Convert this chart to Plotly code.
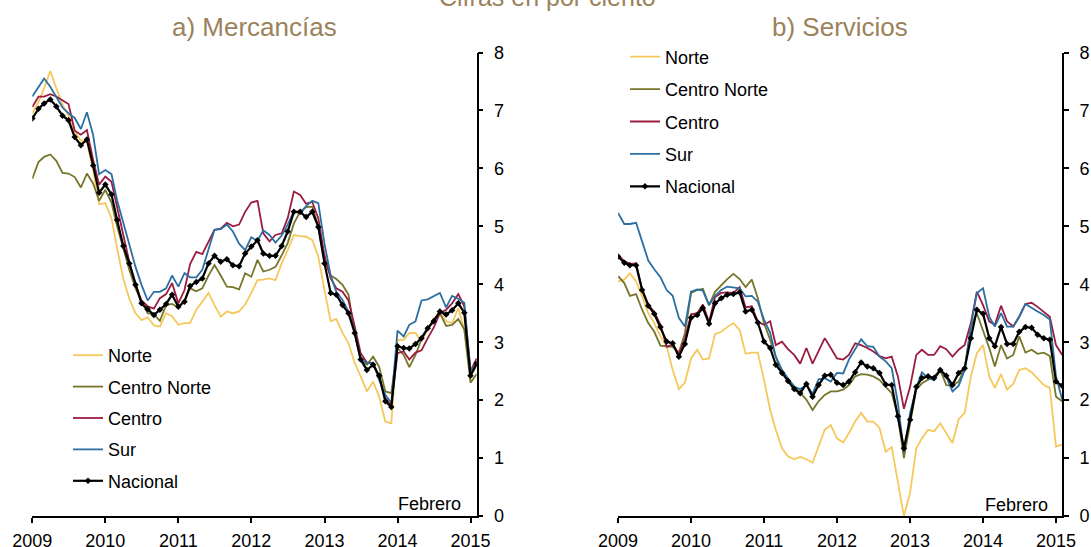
import plotly.graph_objects as go
import pandas as pd

months = pd.date_range("2009-01-01", "2015-02-01", freq="MS")
year_ticks = ["2009-01-01", "2010-01-01", "2011-01-01", "2012-01-01",
              "2013-01-01", "2014-01-01", "2015-01-01"]
year_labels = ["2009", "2010", "2011", "2012", "2013", "2014", "2015"]

series_names = ["Norte", "Centro Norte", "Centro", "Sur", "Nacional"]

# a) Mercancías
merc_norte = [6.95, 7.15, 7.38, 7.68, 7.38, 7.10, 6.91, 6.63, 6.48, 6.45,
              5.98, 5.38, 5.40, 5.14, 4.62, 4.10, 3.75, 3.50, 3.38, 3.43,
              3.29, 3.27, 3.50, 3.45, 3.30, 3.33, 3.33, 3.56, 3.70, 3.85,
              3.64, 3.44, 3.53, 3.50, 3.53, 3.65, 3.85, 4.07, 4.08, 4.10,
              4.07, 4.36, 4.59, 4.85, 4.83, 4.82, 4.76, 4.48, 3.90, 3.36,
              3.40, 3.16, 2.98, 2.64, 2.41, 2.15, 2.32, 2.06, 1.63, 1.60,
              3.04, 3.04, 3.16, 3.16, 3.01, 3.24, 3.39, 3.53, 3.36, 3.33,
              3.59, 3.21, 2.41, 2.58]
merc_centro_norte = [5.82, 6.11, 6.20, 6.24, 6.13, 5.92, 5.91, 5.85, 5.67, 5.91,
                     5.74, 5.44, 5.63, 5.41, 5.00, 4.60, 4.25, 3.93, 3.70, 3.50,
                     3.48, 3.37, 3.64, 3.66, 3.60, 3.72, 3.93, 3.88, 3.93, 4.15,
                     4.33, 4.15, 3.96, 3.95, 3.91, 4.19, 4.13, 4.42, 4.22, 4.25,
                     4.30, 4.50, 4.71, 5.05, 5.25, 5.33, 5.34, 5.00, 4.40, 4.15,
                     4.09, 3.99, 3.82, 3.15, 2.68, 2.61, 2.75, 2.58, 2.15, 2.12,
                     2.90, 2.78, 2.57, 2.78, 3.05, 3.22, 3.40, 3.50, 3.28, 3.30,
                     3.40, 3.22, 2.30, 2.45]
merc_centro = [7.06, 7.24, 7.24, 7.28, 7.24, 7.18, 7.11, 6.65, 6.58, 6.66,
               6.15, 5.72, 5.86, 5.77, 5.31, 4.85, 4.39, 3.99, 3.72, 3.62,
               3.58, 3.76, 3.83, 4.02, 3.67, 3.90, 4.35, 4.56, 4.52, 4.74,
               4.94, 4.96, 5.06, 5.00, 5.03, 5.25, 5.41, 5.44, 4.88, 4.74,
               4.85, 4.88, 5.14, 5.60, 5.54, 5.39, 5.42, 5.14, 4.50, 4.10,
               3.93, 3.87, 3.72, 3.27, 2.81, 2.65, 2.64, 2.41, 2.03, 1.92,
               2.81, 2.84, 2.70, 2.82, 2.86, 3.07, 3.25, 3.50, 3.56, 3.67,
               3.83, 3.62, 2.50, 2.72]
merc_sur = [7.24, 7.40, 7.55, 7.41, 7.22, 7.05, 6.95, 6.87, 6.68, 6.97,
            6.58, 5.90, 5.97, 5.90, 5.45, 5.05, 4.65, 4.30, 3.99, 3.72,
            3.87, 3.87, 3.93, 4.15, 3.96, 4.19, 4.12, 4.12, 4.25, 4.62,
            4.94, 4.95, 5.03, 4.91, 4.70, 4.59, 4.81, 4.75, 4.93, 4.85,
            4.72, 4.84, 5.03, 5.26, 5.22, 5.35, 5.44, 5.40, 4.70, 4.15,
            3.87, 3.73, 3.53, 3.18, 2.71, 2.64, 2.64, 2.35, 2.09, 1.95,
            3.20, 3.10, 3.30, 3.36, 3.72, 3.74, 3.80, 3.85, 3.60, 3.80,
            3.75, 3.68, 2.50, 2.63]
merc_nacional = [6.86, 7.03, 7.12, 7.19, 7.07, 6.91, 6.83, 6.54, 6.40, 6.50,
                 6.05, 5.58, 5.72, 5.55, 5.11, 4.66, 4.36, 3.99, 3.67, 3.57,
                 3.47, 3.56, 3.66, 3.82, 3.61, 3.70, 3.97, 4.04, 4.10, 4.36,
                 4.49, 4.39, 4.43, 4.33, 4.31, 4.53, 4.65, 4.76, 4.53, 4.49,
                 4.49, 4.66, 4.91, 5.25, 5.25, 5.16, 5.25, 4.99, 4.36, 3.85,
                 3.82, 3.64, 3.50, 3.16, 2.70, 2.52, 2.61, 2.42, 1.98, 1.88,
                 2.93, 2.90, 2.89, 2.97, 3.07, 3.24, 3.36, 3.53, 3.48, 3.55,
                 3.67, 3.51, 2.42, 2.63]

# b) Servicios
serv_norte = [4.05, 4.08, 4.19, 4.05, 3.79, 3.50, 3.33, 3.10, 2.93, 2.52,
              2.19, 2.30, 2.72, 2.87, 2.70, 2.72, 3.14, 3.18, 3.26, 3.33,
              3.21, 2.80, 2.82, 2.82, 2.35, 1.83, 1.49, 1.17, 1.03, 0.98,
              1.02, 0.98, 0.92, 1.20, 1.49, 1.57, 1.34, 1.27, 1.43, 1.63,
              1.78, 1.63, 1.63, 1.52, 1.11, 1.19, 0.55, 0.00, 0.40, 1.17,
              1.34, 1.49, 1.46, 1.60, 1.43, 1.26, 1.67, 1.78, 2.41, 2.81,
              2.95, 2.41, 2.21, 2.45, 2.18, 2.28, 2.52, 2.55, 2.48, 2.38,
              2.26, 2.21, 1.20, 1.23]
serv_centro_norte = [4.14, 4.02, 3.80, 3.83, 3.56, 3.33, 3.18, 2.94, 2.93, 2.92,
                     2.82, 3.15, 3.85, 3.90, 3.92, 3.64, 3.87, 3.99, 4.09, 4.18,
                     4.09, 3.95, 4.08, 3.76, 3.33, 3.04, 2.75, 2.47, 2.36, 2.23,
                     2.13, 2.01, 1.83, 1.98, 2.09, 2.15, 2.15, 2.18, 2.26, 2.41,
                     2.45, 2.44, 2.41, 2.35, 2.23, 2.12, 1.72, 1.00, 1.60, 2.18,
                     2.29, 2.35, 2.41, 2.52, 2.26, 2.25, 2.32, 2.55, 3.27, 3.50,
                     3.21, 2.90, 2.58, 2.95, 2.72, 2.78, 3.10, 2.82, 2.87, 2.80,
                     2.82, 2.76, 2.06, 1.98]
serv_centro = [4.50, 4.40, 4.35, 4.36, 3.92, 3.65, 3.52, 3.30, 2.92, 2.96,
               2.80, 3.05, 3.48, 3.50, 3.65, 3.35, 3.78, 3.85, 3.86, 3.85,
               3.95, 3.60, 3.62, 3.35, 3.30, 3.36, 2.95, 3.01, 2.88, 2.78,
               2.63, 2.90, 2.63, 2.86, 3.07, 2.90, 2.72, 2.70, 2.78, 2.98,
               2.95, 2.90, 2.84, 2.76, 2.72, 2.75, 2.41, 1.85, 2.23, 2.78,
               2.87, 2.78, 2.78, 2.93, 2.88, 2.75, 2.87, 2.95, 3.33, 3.87,
               3.64, 3.36, 3.30, 3.63, 3.36, 3.27, 3.44, 3.66, 3.68, 3.61,
               3.53, 3.44, 2.95, 2.78]
serv_sur = [5.23, 5.04, 5.04, 5.06, 4.74, 4.41, 4.26, 4.12, 3.90, 3.80,
            3.42, 3.27, 3.87, 3.91, 3.89, 3.64, 3.80, 3.90, 3.96, 3.94,
            3.93, 3.79, 3.80, 3.70, 3.39, 3.16, 2.75, 2.52, 2.38, 2.23,
            2.19, 2.26, 2.11, 2.36, 2.38, 2.32, 2.47, 2.46, 2.70, 2.87,
            3.05, 2.93, 2.92, 2.75, 2.67, 2.55, 1.95, 1.10, 1.78, 2.21,
            2.48, 2.38, 2.35, 2.52, 2.40, 2.15, 2.25, 2.52, 3.27, 3.85,
            3.93, 3.44, 3.27, 3.50, 3.27, 3.27, 3.44, 3.66, 3.59, 3.53,
            3.47, 3.39, 2.41, 2.01]
serv_nacional = [4.48, 4.37, 4.33, 4.33, 3.90, 3.63, 3.49, 3.26, 3.01, 2.98,
                 2.75, 2.97, 3.42, 3.47, 3.59, 3.32, 3.67, 3.76, 3.82, 3.83,
                 3.86, 3.53, 3.56, 3.34, 3.01, 2.90, 2.61, 2.47, 2.33, 2.19,
                 2.12, 2.28, 2.06, 2.26, 2.42, 2.44, 2.30, 2.26, 2.32, 2.48,
                 2.65, 2.58, 2.55, 2.47, 2.27, 2.26, 1.72, 1.17, 1.66, 2.23,
                 2.38, 2.41, 2.38, 2.52, 2.42, 2.26, 2.47, 2.55, 3.07, 3.56,
                 3.49, 3.07, 2.93, 3.26, 2.97, 2.97, 3.18, 3.26, 3.25, 3.13,
                 3.07, 3.04, 2.32, 2.25]

colors = ["#F6C85C", "#76752A", "#9B1C40", "#2C6FA2", "#000000"]
FONT = "Liberation Sans, Arial, sans-serif"
TITLE_COLOR = "#9B825A"
W, H = 1091, 547

fig = go.Figure()

panels = [
    ([merc_norte, merc_centro_norte, merc_centro, merc_sur, merc_nacional], "x", "y", "legend"),
    ([serv_norte, serv_centro_norte, serv_centro, serv_sur, serv_nacional], "x2", "y2", "legend2"),
]
for p, (data, xa, ya, lg) in enumerate(panels):
    for k, (name, vals) in enumerate(zip(series_names, data)):
        is_nat = name == "Nacional"
        fig.add_trace(go.Scatter(
            x=months, y=vals, name=name, xaxis=xa, yaxis=ya, legend=lg,
            legendgroup=f"{p}-{k}",
            mode="lines+markers" if is_nat else "lines",
            line=dict(color=colors[k], width=2.2 if is_nat else 1.8),
            marker=dict(symbol="diamond", size=5, color="#000000") if is_nat else None,
        ))

def px_x(v):
    return v / W

def px_y(v):
    return 1 - v / H

axis_common = dict(showgrid=False, zeroline=False, showline=True, automargin=False,
                   linecolor="black", linewidth=1.5, ticks="outside",
                   ticklen=5, tickwidth=1.5, tickcolor="black",
                   tickfont=dict(family=FONT, size=18, color="black"))

xdoms = [[px_x(32.3), px_x(476.7)], [px_x(618.1), px_x(1062.2)]]
ydom = [px_y(516.0), px_y(52.5)]

for idx, (xn, yn, xa, ya) in enumerate([("xaxis", "yaxis", "x", "y"),
                                         ("xaxis2", "yaxis2", "x2", "y2")]):
    fig.update_layout(**{
        xn: dict(axis_common, domain=xdoms[idx], anchor=ya, type="date",
                 range=["2009-01-01", "2015-02-01"], tickvals=year_ticks,
                 ticktext=year_labels, ticklabelstandoff=3),
        yn: dict(axis_common, domain=ydom, anchor=xa, side="right",
                 range=[0, 8], tickvals=[0, 1, 2, 3, 4, 5, 6, 7, 8],
                 ticklabelstandoff=7),
    })

legend_common = dict(font=dict(family=FONT, size=18, color="black"),
                     bgcolor="rgba(0,0,0,0)", traceorder="grouped",
                     xanchor="left", yanchor="top", itemclick=False)
fig.update_layout(
    legend=dict(legend_common, x=px_x(68), y=px_y(337), tracegroupgap=5),
    legend2=dict(legend_common, x=px_x(625), y=px_y(38.5), tracegroupgap=6),
)

annotations = [
    dict(text="Cifras en por ciento", x=px_x(547), y=px_y(13), yanchor="bottom",
         font=dict(family=FONT, size=25, color=TITLE_COLOR)),
    dict(text="a) Mercancías", x=px_x(254), y=px_y(27), yanchor="middle",
         font=dict(family=FONT, size=26, color=TITLE_COLOR)),
    dict(text="b) Servicios", x=px_x(840), y=px_y(27), yanchor="middle",
         font=dict(family=FONT, size=26, color=TITLE_COLOR)),
    dict(text="Febrero", x=px_x(463), y=px_y(504), xanchor="right", yanchor="middle",
         font=dict(family=FONT, size=18, color="black")),
    dict(text="Febrero", x=px_x(1050), y=px_y(505), xanchor="right", yanchor="middle",
         font=dict(family=FONT, size=18, color="black")),
]
for a in annotations:
    a.update(xref="paper", yref="paper", showarrow=False)
    a.setdefault("xanchor", "center")

fig.update_layout(
    width=W, height=H, margin=dict(l=0, r=0, t=0, b=0, autoexpand=False),
    paper_bgcolor="white", plot_bgcolor="white",
    annotations=annotations, showlegend=True,
    font=dict(family=FONT, color="black"),
)

# the page's default 8px body margin would shift the figure; remove it
fig.write_html("out.html", config={"displayModeBar": False},
               post_script="document.body.style.margin='0';")
